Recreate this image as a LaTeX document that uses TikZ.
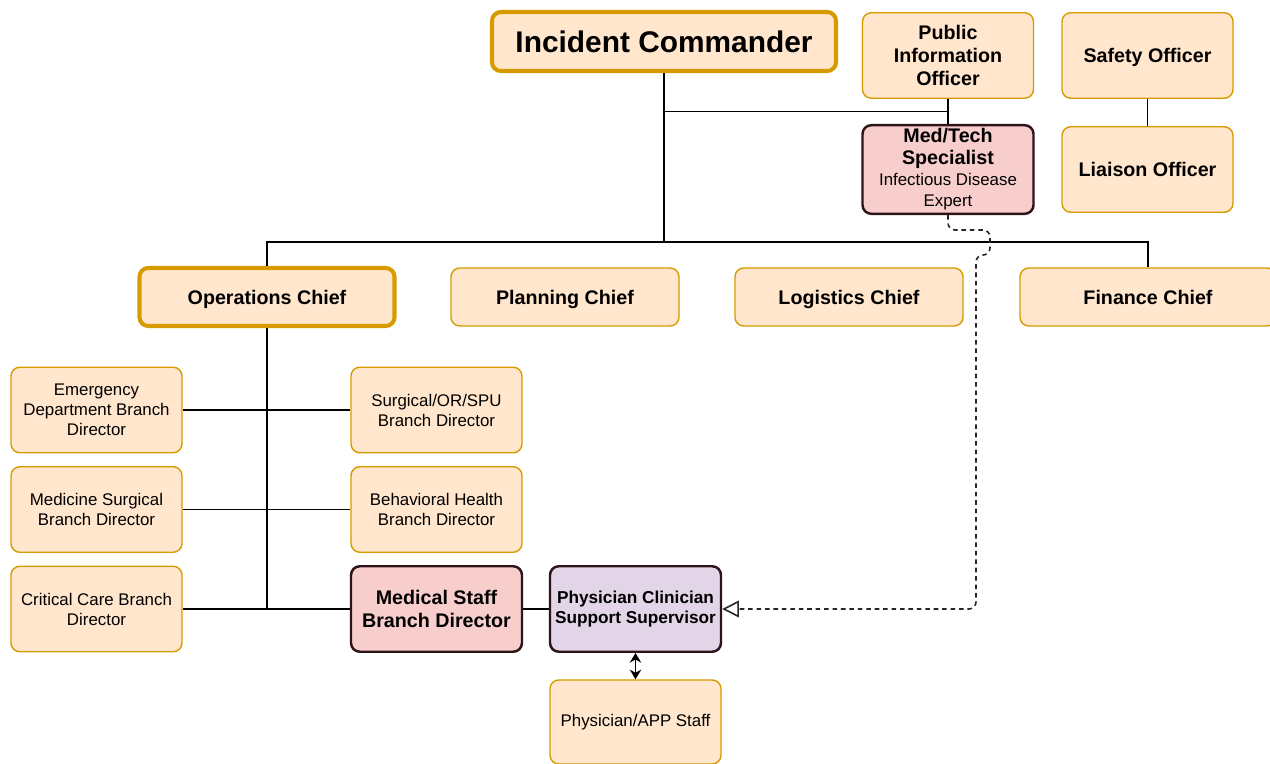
\documentclass[tikz,border=0pt]{standalone}
\usepackage{fontspec}
\setmainfont{Liberation Sans}
\usetikzlibrary{arrows.meta,calc,positioning}
\definecolor{boxfill}{HTML}{FFE6CC}
\definecolor{boxdraw}{HTML}{D79B00}
\definecolor{pinkfill}{HTML}{F8CECC}
\definecolor{lilacfill}{HTML}{E1D5E7}
\definecolor{darkedge}{HTML}{2E1418}
\newcommand{\medhead}[1]{{\fontsize{11.2}{13}\selectfont\bfseries #1}}
\tikzset{
    ics chart/.style  = {font=\fontsize{9.6}{11.4}\selectfont},
    line/.style       = {line width=0.9pt},
    box/.style        = {draw=boxdraw, line width=0.8pt, fill=boxfill,
                         rounded corners=5pt, align=center,
                         minimum width=3.42cm, minimum height=1.71cm,
                         inner sep=2pt},
    one line/.style   = {text height=8pt, text depth=0pt},
    chief/.style      = {box, one line, minimum width=4.56cm, minimum height=1.16cm,
                         font=\fontsize{11.2}{13}\selectfont\bfseries},
    lead chief/.style = {chief, line width=2.3pt, minimum width=5.1cm},
    officer/.style    = {box, font=\fontsize{11.2}{13}\selectfont\bfseries},
    medbox/.style     = {box, draw=darkedge, line width=1.4pt, fill=pinkfill},
    lilacbox/.style   = {box, draw=darkedge, line width=1.4pt, fill=lilacfill,
                         font=\fontsize{9.8}{11.6}\selectfont\bfseries},
    advice/.style     = {line, draw=black!85, dash pattern=on 2.6pt off 2.2pt,
                         rounded corners=4pt,
                         -{Triangle[open, length=9.5pt, width=9.5pt]}},
    both ways/.style  = {line, line width=1pt,
                         {Stealth[length=5.5pt, width=6.5pt]}-{Stealth[length=5.5pt, width=6.5pt]}}
}

\begin{document}
\begin{tikzpicture}[ics chart]
\useasboundingbox[fill=white] (0,0) rectangle (25.4,-15.28);

% ================= Command staff =================
\node[lead chief, minimum width=6.88cm, minimum height=1.18cm,
      text height=12.2pt, text depth=0pt,
      font=\fontsize{17}{20}\selectfont\bfseries]
    (ic) at (13.28,-0.83) {Incident Commander};
\node[officer] (pio) at (18.96,-1.11) {Public\\Information\\Officer};
\node[officer, one line] (safety) at (22.95,-1.11) {Safety Officer};
\node[officer, one line] (liaison) at (22.95,-3.39) {Liaison Officer};
\node[medbox, font=\fontsize{9.6}{12.1}\selectfont] (medtech) at (18.96,-3.39)
    {\medhead{Med/Tech}\\\medhead{Specialist}\\Infectious Disease\\Expert};

% ================= General staff =================
\node[lead chief] (ops) at (5.34,-5.94) {Operations Chief};
\node[chief] (planning) at (11.3,-5.94) {Planning Chief};
\node[chief] (logistics) at (16.98,-5.94) {Logistics Chief};
\node[chief, minimum width=5.12cm] (finance) at (22.96,-5.94) {Finance Chief};

% ================= Operations branches =================
\node[box] (emergency) at (1.93,-8.2) {Emergency\\Department Branch\\Director};
\node[box] (surgical) at (8.73,-8.2) {Surgical/OR/SPU\\Branch Director};
\node[box] (medsurg) at (1.93,-10.19) {Medicine Surgical\\Branch Director};
\node[box] (behavioral) at (8.73,-10.19) {Behavioral Health\\Branch Director};
\node[box] (critical) at (1.93,-12.18) {Critical Care Branch\\Director};
\node[medbox, font=\fontsize{11.2}{13}\selectfont\bfseries]
    (medstaff) at (8.73,-12.18) {Medical Staff\\Branch Director};
\node[lilacbox] (pcss) at (12.71,-12.18) {Physician Clinician\\Support Supervisor};
\node[box, minimum height=1.68cm] (app) at (12.71,-14.44) {Physician/APP Staff};

% ================= Connectors =================
\coordinate (bus) at ($(ic.south)+(0,-3.38)$);
\coordinate (staffjoin) at ($(pio.south)!0.5!(medtech.north)$);
\draw[line] (ic.south) -- (bus);
\draw[line] (ops.north) |- (bus) -| (finance.north);
\draw[line] (pio.south) -- (medtech.north);
\draw[line] (staffjoin) -- (ic.south |- staffjoin);
\draw[line] (safety.south) -- (liaison.north);

\draw[line] (ops.south) -- (ops.south |- critical.east);
\draw[line] (emergency.east) -- (surgical.west);
\draw[line] (medsurg.east) -- (behavioral.west);
\draw[line] (critical.east) -- (medstaff.west);
\draw[line] (medstaff.east) -- (pcss.west);
\draw[both ways] (pcss.south) -- (app.north);

% ================= Specialist advice link =================
\draw[advice] (medtech.south) -- ++(0,-0.3) -- ++(0.84,0) -- ++(0,-0.5)
    -- ++(-0.28,0) |- (pcss.east);

\end{tikzpicture}
\end{document}
